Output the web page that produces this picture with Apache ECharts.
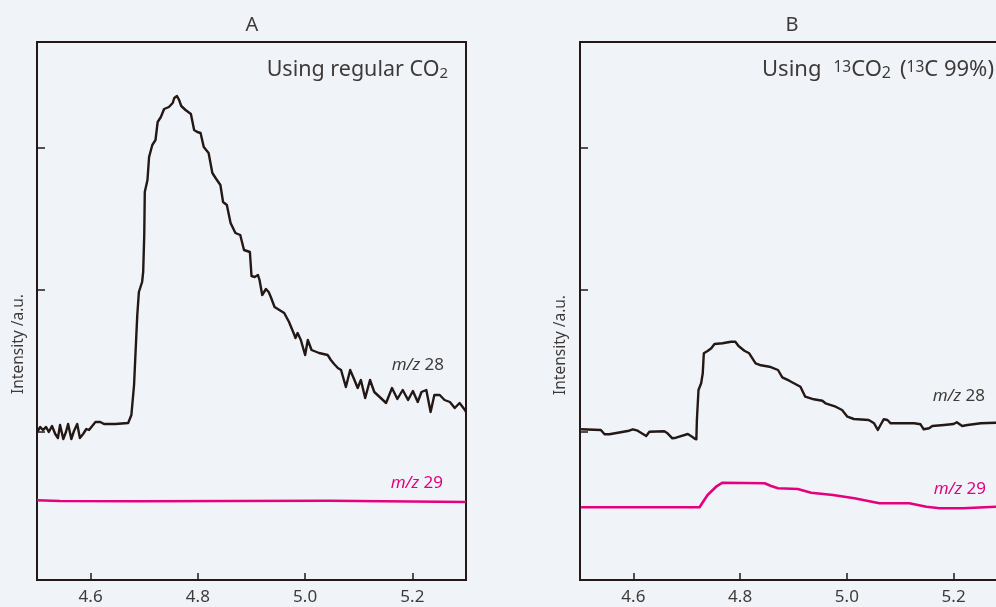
<!DOCTYPE html>
<html>
<head>
<meta charset="utf-8">
<script src="https://cdn.jsdelivr.net/npm/echarts@6/dist/echarts.min.js"></script>
<style>
  html, body { margin: 0; padding: 0; background: #f0f4f8; }
  #chart { width: 996px; height: 607px; }
</style>
</head>
<body>
<div id="chart"></div>
<script>
// Retention time (min) and ion intensity (a.u.) for the two runs.
// Panel A: regular CO2
const aTime28 = [4.500, 4.506, 4.511, 4.517, 4.522, 4.528, 4.534, 4.539, 4.543, 4.549, 4.554, 4.558, 4.564, 4.569, 4.575, 4.580, 4.586, 4.592, 4.597, 4.603, 4.609, 4.612, 4.618, 4.625, 4.646, 4.670, 4.676, 4.681, 4.685, 4.687, 4.690, 4.696, 4.698, 4.700, 4.701, 4.706, 4.709, 4.715, 4.721, 4.725, 4.731, 4.737, 4.746, 4.753, 4.756, 4.761, 4.765, 4.769, 4.777, 4.787, 4.790, 4.793, 4.799, 4.805, 4.811, 4.820, 4.827, 4.833, 4.842, 4.847, 4.854, 4.861, 4.870, 4.879, 4.886, 4.897, 4.900, 4.906, 4.912, 4.915, 4.920, 4.927, 4.932, 4.936, 4.943, 4.961, 4.970, 4.980, 4.982, 4.986, 4.992, 5.000, 5.005, 5.012, 5.026, 5.042, 5.048, 5.054, 5.061, 5.067, 5.076, 5.084, 5.092, 5.098, 5.104, 5.112, 5.121, 5.129, 5.139, 5.151, 5.162, 5.172, 5.182, 5.192, 5.201, 5.210, 5.217, 5.226, 5.234, 5.241, 5.251, 5.260, 5.270, 5.279, 5.288, 5.298, 5.300];
const aMz28 = [148, 153, 150, 153, 148, 154, 146, 142, 155, 141, 148, 156, 141, 149, 156, 142, 146, 151, 150, 154, 158, 160, 158, 156, 156, 157, 165, 195, 242, 265, 288, 298, 308, 345, 388, 400, 423, 435, 440, 458, 463, 471, 473, 477, 482, 484, 480, 474, 470, 466, 458, 450, 448, 447, 433, 427, 407, 402, 395, 378, 375, 357, 347, 345, 330, 328, 304, 303, 305, 300, 285, 291, 288, 283, 273, 267, 258, 245, 242, 247, 240, 225, 240, 230, 227, 225, 220, 216, 212, 210, 193, 210, 200, 192, 200, 182, 200, 188, 183, 177, 192, 181, 190, 180, 189, 178, 188, 190, 168, 185, 185, 180, 178, 172, 177, 170, 168];
const aTime29 = [4.500, 4.543, 4.689, 4.691, 5.044, 5.046, 5.300];
const aMz29 = [79.7, 79, 78.7, 79.3, 79.3, 78, 78];

// Panel B: 13CO2 (13C 99%)
const bTime28 = [4.502, 4.539, 4.546, 4.555, 4.592, 4.599, 4.608, 4.624, 4.630, 4.658, 4.664, 4.673, 4.680, 4.702, 4.710, 4.714, 4.718, 4.719, 4.722, 4.727, 4.730, 4.732, 4.739, 4.746, 4.752, 4.767, 4.783, 4.791, 4.797, 4.808, 4.817, 4.829, 4.839, 4.855, 4.871, 4.879, 4.892, 4.913, 4.922, 4.938, 4.954, 4.960, 4.979, 4.991, 5.001, 5.013, 5.041, 5.051, 5.058, 5.063, 5.069, 5.076, 5.082, 5.126, 5.138, 5.144, 5.154, 5.160, 5.182, 5.200, 5.206, 5.216, 5.226, 5.251, 5.281, 5.300];
const bMz28 = [150.7, 150, 145.7, 145.7, 149.3, 150.7, 149.3, 144, 148.3, 148.7, 146.7, 141.7, 142.3, 146, 143.3, 141.7, 140.7, 160, 190, 196.7, 206.7, 226.7, 229, 231.7, 236, 236.7, 238.3, 238.3, 234, 229.3, 226.7, 216.7, 214.7, 213.3, 210, 202.7, 199.3, 193.3, 183.3, 180.7, 179.3, 176.7, 173.3, 170, 163.3, 161, 160, 156.7, 150, 155, 160.7, 160, 156.7, 156.7, 155.7, 150.7, 151.7, 154, 155, 156, 157.7, 154, 155, 156.7, 157.3, 157.5];
const bTime29 = [4.502, 4.724, 4.730, 4.739, 4.755, 4.767, 4.846, 4.858, 4.871, 4.908, 4.933, 4.974, 5.014, 5.061, 5.117, 5.149, 5.174, 5.217, 5.280, 5.300];
const bMz29 = [72.7, 72.7, 77.7, 85, 93.3, 97.3, 96.7, 94, 91.7, 91, 87.3, 85, 81.7, 76.7, 76.7, 73.3, 71.7, 71.7, 73.3, 73.5];

// Axis settings
const timeMin = 4.5, timeMax = 5.3;
const timeTicks = [4.6, 4.8, 5.0, 5.2];
const intensityMin = 0, intensityMax = 538;
const intensityTicks = [148, 290, 432];

const INK = '#231815';
const TEXT = '#3e3a39';
const MAGENTA = '#e4007f';
const FONT = '"Noto Sans", "Open Sans", sans-serif';

const pairs = (xs, ys) => xs.map((x, i) => [x, ys[i]]);

function xAxisFor(gridIndex) {
  return {
    type: 'value', gridIndex, min: timeMin, max: timeMax,
    axisLine: { show: false },
    splitLine: { show: false },
    axisTick: { show: true, inside: true, length: 7, customValues: timeTicks,
                lineStyle: { color: INK, width: 1.5 } },
    axisLabel: { show: true, customValues: timeTicks, margin: 9,
                 color: TEXT, fontSize: 17, fontFamily: FONT,
                 formatter: v => v.toFixed(1) }
  };
}
function yAxisFor(gridIndex) {
  return {
    type: 'value', gridIndex, min: intensityMin, max: intensityMax,
    axisLine: { show: false },
    splitLine: { show: false },
    axisTick: { show: true, inside: true, length: 8, customValues: intensityTicks,
                lineStyle: { color: INK, width: 1.5 } },
    axisLabel: { show: false }
  };
}
function trace(xi, xs, ys, color, width) {
  return {
    type: 'line', xAxisIndex: xi, yAxisIndex: xi,
    data: pairs(xs, ys), showSymbol: false, symbol: 'none',
    lineStyle: { color, width, join: 'round' }, silent: true, animation: false
  };
}
function txt(text, x, y, opts, rotation) {
  return {
    type: 'text', x, y, silent: true, rotation: rotation || 0,
    style: Object.assign({
      text, fill: TEXT, fontFamily: FONT, fontSize: 17,
      align: 'center', verticalAlign: 'middle'
    }, opts || {})
  };
}

const richSub = {
  s: { fontSize: 15, fontFamily: FONT, fill: TEXT, verticalAlign: 'bottom' },
  s2: { fontSize: 16, fontFamily: FONT, fill: TEXT, verticalAlign: 'bottom' },
  u: { fontSize: 15.5, fontFamily: FONT, fill: TEXT, verticalAlign: 'top', padding: [1, 0, 0, 0] },
  g: { fontSize: 22, fontFamily: FONT, fill: TEXT, width: 12 },
  h: { fontSize: 22, fontFamily: FONT, fill: TEXT, width: 9 }
};
const mzRich = (color) => ({
  i: { fontSize: 17, fontStyle: 'italic', fontFamily: FONT, fill: color },
  n: { fontSize: 17, fontFamily: FONT, fill: color }
});

const chart = echarts.init(document.getElementById('chart'), null, { renderer: 'canvas' });
chart.setOption({
  backgroundColor: '#f0f4f8',
  animation: false,
  grid: [
    { left: 37, top: 42, width: 429, height: 538, outerBoundsMode: 'none',
      show: true, borderColor: INK, borderWidth: 2, backgroundColor: 'transparent' },
    { left: 580, top: 42, width: 427, height: 538, outerBoundsMode: 'none',
      show: true, borderColor: INK, borderWidth: 2, backgroundColor: 'transparent' }
  ],
  xAxis: [xAxisFor(0), xAxisFor(1)],
  yAxis: [yAxisFor(0), yAxisFor(1)],
  series: [
    trace(0, aTime29, aMz29, MAGENTA, 2.6),
    trace(0, aTime28, aMz28, INK, 2.4),
    trace(1, bTime29, bMz29, MAGENTA, 2.6),
    trace(1, bTime28, bMz28, INK, 2.4)
  ],
  graphic: [
    txt('A', 252, 25, { fontSize: 20 }),
    txt('B', 792, 25, { fontSize: 20 }),
    txt('Using regular CO{s|2}', 448, 70, { fontSize: 21.5, align: 'right', rich: richSub }),
    txt('Using{g| }{u|13}CO{s2|2}{h| }({u|13}C 99%)', 994, 70, { fontSize: 22, align: 'right', rich: richSub }),
    txt('Intensity /a.u.', 18.5, 344, { fontSize: 15.5 }, Math.PI / 2),
    txt('Intensity /a.u.', 561, 345, { fontSize: 15.5 }, Math.PI / 2),
    txt('{i|m/z} {n|28}', 444, 365, { align: 'right', rich: mzRich(TEXT) }),
    txt('{i|m/z} {n|29}', 443, 483, { align: 'right', fill: MAGENTA, rich: mzRich(MAGENTA) }),
    txt('{i|m/z} {n|28}', 985, 396, { align: 'right', rich: mzRich(TEXT) }),
    txt('{i|m/z} {n|29}', 986, 489, { align: 'right', fill: MAGENTA, rich: mzRich(MAGENTA) })
  ]
});
</script>
</body>
</html>
